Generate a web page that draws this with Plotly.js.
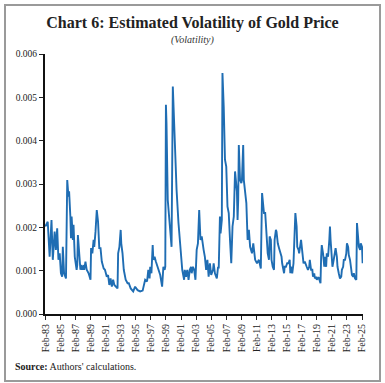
<!DOCTYPE html>
<html>
<head>
<meta charset="utf-8">
<script src="https://cdn.plot.ly/plotly-3.0.1.min.js"></script>
<style>
  html, body { margin: 0; padding: 0; background: #fff; }
  #wrap { position: relative; width: 385px; height: 383px; }
  #chart { width: 385px; height: 383px; }
  #frame { position: absolute; left: 4px; top: 4px; width: 373px; height: 374px;
           border: 2px solid #9a9a9a; pointer-events: none; }
</style>
</head>
<body>
<div id="wrap">
  <div id="chart"></div>
  <div id="frame"></div>
</div>
<script>
// Dates (month) and estimated volatility
const dates = [
 "1983-02","1983-06","1983-09","1983-12","1984-02","1984-05","1984-07","1984-09","1984-11","1985-01",
 "1985-03","1985-05","1985-06","1985-08","1985-11","1986-01","1986-03","1986-04","1986-06","1986-07",
 "1986-08","1986-10","1986-11","1987-01","1987-04","1987-05","1987-06","1987-09","1987-10","1987-11",
 "1988-01","1988-03","1988-04","1988-06","1988-08","1988-11","1989-02","1989-03","1989-05","1989-07",
 "1989-08","1989-10","1989-12","1990-02","1990-04","1990-06","1990-08","1990-11","1991-01","1991-04",
 "1991-06","1991-08","1991-10","1991-12","1992-02","1992-04","1992-07","1992-09","1992-10","1992-12",
 "1993-02","1993-03","1993-05","1993-07","1993-10","1994-01","1994-03","1994-06","1994-10","1995-01",
 "1995-05","1995-09","1996-01","1996-05","1996-08","1996-10","1996-12","1997-01","1997-03","1997-05",
 "1997-06","1997-08","1997-10","1998-02","1998-05","1998-08","1998-10","1998-12","1999-01","1999-02",
 "1999-03","1999-05","1999-08","1999-09","1999-11","2000-01","2000-02","2000-04","2000-05","2000-07",
 "2000-10","2001-01","2001-04","2001-07","2001-08","2001-10","2001-12","2002-02","2002-04","2002-06",
 "2002-07","2002-09","2002-11","2003-01","2003-03","2003-05","2003-07","2003-09","2003-11","2004-02",
 "2004-04","2004-06","2004-08","2004-10","2004-12","2005-02","2005-05","2005-06","2005-08","2005-11",
 "2006-01","2006-02","2006-04","2006-05","2006-07","2006-08","2006-10","2006-12","2007-02","2007-04",
 "2007-06","2007-08","2007-10","2007-12","2008-02","2008-04","2008-06","2008-07","2008-08","2008-09",
 "2008-10","2008-12","2009-02","2009-03","2009-05","2009-06","2009-10","2009-12","2010-02","2010-04",
 "2010-07","2010-09","2010-12","2011-03","2011-06","2011-08","2011-09","2011-11","2012-01","2012-02",
 "2012-04","2012-05","2012-08","2012-10","2012-11","2013-01","2013-02","2013-04","2013-06","2013-07",
 "2013-09","2013-10","2013-12","2014-02","2014-04","2014-06","2014-07","2014-10","2014-11","2015-01",
 "2015-03","2015-05","2015-07","2015-08","2015-09","2015-11","2016-01","2016-02","2016-04","2016-06",
 "2016-07","2016-09","2016-10","2017-01","2017-02","2017-04","2017-05","2017-07","2017-09","2017-10",
 "2017-12","2018-02","2018-03","2018-05","2018-07","2018-08","2018-10","2018-11","2019-01","2019-02",
 "2019-05","2019-06","2019-08","2019-09","2019-10","2019-12","2020-02","2020-03","2020-05","2020-06",
 "2020-08","2020-10","2020-11","2020-12","2021-02","2021-03","2021-05","2021-07","2021-08","2021-10",
 "2021-11","2022-01","2022-03","2022-05","2022-06","2022-08","2022-09","2022-11","2023-01","2023-02",
 "2023-04","2023-05","2023-07","2023-09","2023-10","2023-12","2024-01","2024-03","2024-05","2024-06",
 "2024-08","2024-09","2024-11","2024-12","2025-02","2025-03"
];
const volatility = [
 0.00202,0.00213,0.00132,0.00217,0.00125,0.00190,0.00148,0.00198,0.00125,0.00140,
 0.00094,0.00086,0.00155,0.00094,0.00082,0.00309,0.00271,0.00283,0.00225,0.00175,
 0.00225,0.00171,0.00206,0.00132,0.00102,0.00113,0.00182,0.00125,0.00102,0.00113,
 0.00102,0.00113,0.00102,0.00121,0.00102,0.00094,0.00079,0.00152,0.00140,0.00171,
 0.00155,0.00190,0.00240,0.00213,0.00152,0.00152,0.00121,0.00105,0.00102,0.00086,
 0.00090,0.00067,0.00082,0.00063,0.00079,0.00067,0.00063,0.00059,0.00140,0.00155,
 0.00194,0.00163,0.00140,0.00102,0.00079,0.00071,0.00071,0.00059,0.00052,0.00063,
 0.00055,0.00052,0.00054,0.00079,0.00075,0.00102,0.00082,0.00109,0.00094,0.00159,
 0.00125,0.00132,0.00121,0.00102,0.00090,0.00063,0.00109,0.00102,0.00109,0.00483,
 0.00440,0.00263,0.00202,0.00194,0.00155,0.00525,0.00479,0.00379,0.00340,0.00286,
 0.00210,0.00155,0.00102,0.00079,0.00102,0.00086,0.00102,0.00079,0.00102,0.00109,
 0.00094,0.00109,0.00102,0.00079,0.00148,0.00163,0.00240,0.00171,0.00179,0.00148,
 0.00132,0.00102,0.00125,0.00086,0.00117,0.00090,0.00102,0.00117,0.00094,0.00082,
 0.00109,0.00105,0.00225,0.00186,0.00217,0.00556,0.00479,0.00356,0.00340,0.00248,
 0.00233,0.00171,0.00117,0.00202,0.00225,0.00329,0.00286,0.00283,0.00217,0.00263,
 0.00390,0.00309,0.00302,0.00309,0.00390,0.00309,0.00256,0.00171,0.00194,0.00155,
 0.00140,0.00163,0.00125,0.00117,0.00125,0.00109,0.00105,0.00279,0.00256,0.00233,
 0.00233,0.00202,0.00140,0.00125,0.00179,0.00171,0.00125,0.00109,0.00102,0.00171,
 0.00194,0.00190,0.00163,0.00152,0.00140,0.00132,0.00117,0.00094,0.00109,0.00109,
 0.00117,0.00117,0.00125,0.00094,0.00109,0.00094,0.00117,0.00155,0.00233,0.00202,
 0.00155,0.00148,0.00140,0.00171,0.00155,0.00132,0.00117,0.00121,0.00109,0.00109,
 0.00102,0.00109,0.00125,0.00102,0.00102,0.00086,0.00094,0.00082,0.00086,0.00079,
 0.00085,0.00079,0.00071,0.00132,0.00159,0.00140,0.00109,0.00132,0.00109,0.00140,
 0.00132,0.00171,0.00202,0.00171,0.00117,0.00109,0.00125,0.00148,0.00152,0.00132,
 0.00109,0.00094,0.00082,0.00086,0.00102,0.00109,0.00125,0.00125,0.00140,0.00163,
 0.00155,0.00136,0.00125,0.00102,0.00090,0.00086,0.00094,0.00082,0.00079,0.00210,
 0.00179,0.00155,0.00148,0.00163,0.00155,0.00117
];
const tickDates = [
 "1983-02-01","1985-02-01","1987-02-01","1989-02-01","1991-02-01","1993-02-01","1995-02-01",
 "1997-02-01","1999-02-01","2001-02-01","2003-02-01","2005-02-01","2007-02-01","2009-02-01",
 "2011-02-01","2013-02-01","2015-02-01","2017-02-01","2019-02-01","2021-02-01","2023-02-01","2025-02-01"
];
const tickLabels = [
 "Feb-83","Feb-85","Feb-87","Feb-89","Feb-91","Feb-93","Feb-95","Feb-97","Feb-99","Feb-01","Feb-03",
 "Feb-05","Feb-07","Feb-09","Feb-11","Feb-13","Feb-15","Feb-17","Feb-19","Feb-21","Feb-23","Feb-25"
];
const yTicks = [0, 0.001, 0.002, 0.003, 0.004, 0.005, 0.006];

const serif = "Liberation Serif, Times New Roman, serif";

Plotly.newPlot("chart", [{
  type: "scatter",
  mode: "lines",
  x: dates,
  y: volatility,
  line: { color: "#1f6db3", width: 1.9 },
  hoverinfo: "skip"
}], {
  width: 385, height: 383,
  margin: { l: 45, r: 22, t: 54, b: 69 },
  paper_bgcolor: "#fff", plot_bgcolor: "#fff",
  showlegend: false,
  title: {
    text: "<b>Chart 6: Estimated Volatility of Gold Price</b>",
    font: { family: serif, size: 16, color: "#222" },
    x: 0.5, xanchor: "center", xref: "container",
    y: 1 - 22/383, yanchor: "middle", yref: "container"
  },
  annotations: [
    { text: "<i>(Volatility)</i>", xref: "paper", yref: "paper", x: (192-45)/318, y: (314-40)/260,
      xanchor: "center", yanchor: "middle", showarrow: false,
      font: { family: serif, size: 10, color: "#333" } },
    { text: "<b>Source:</b> Authors' calculations.", xref: "paper", yref: "paper",
      x: (13-45)/318, y: (314-366)/260, xanchor: "left", yanchor: "middle", showarrow: false,
      font: { family: serif, size: 10, color: "#222" } }
  ],
  xaxis: {
    type: "date",
    range: ["1983-01-20", "2025-03-20"],
    tickmode: "array", tickvals: tickDates, ticktext: tickLabels,
    tickangle: -90,
    tickfont: { family: serif, size: 10, color: "#222" },
    ticks: "outside", ticklen: 4, tickcolor: "#222", tickwidth: 1,
    showline: true, linecolor: "#111", linewidth: 2,
    showgrid: false, zeroline: false
  },
  yaxis: {
    range: [0, 0.006],
    tickmode: "array", tickvals: yTicks, tickformat: ".3f",
    tickfont: { family: serif, size: 9.5, color: "#222" },
    ticks: "outside", ticklen: 4, tickcolor: "#222", tickwidth: 1,
    showline: true, linecolor: "#111", linewidth: 2,
    showgrid: false, zeroline: false
  }
}, { displayModeBar: false, staticPlot: true });
</script>
</body>
</html>
